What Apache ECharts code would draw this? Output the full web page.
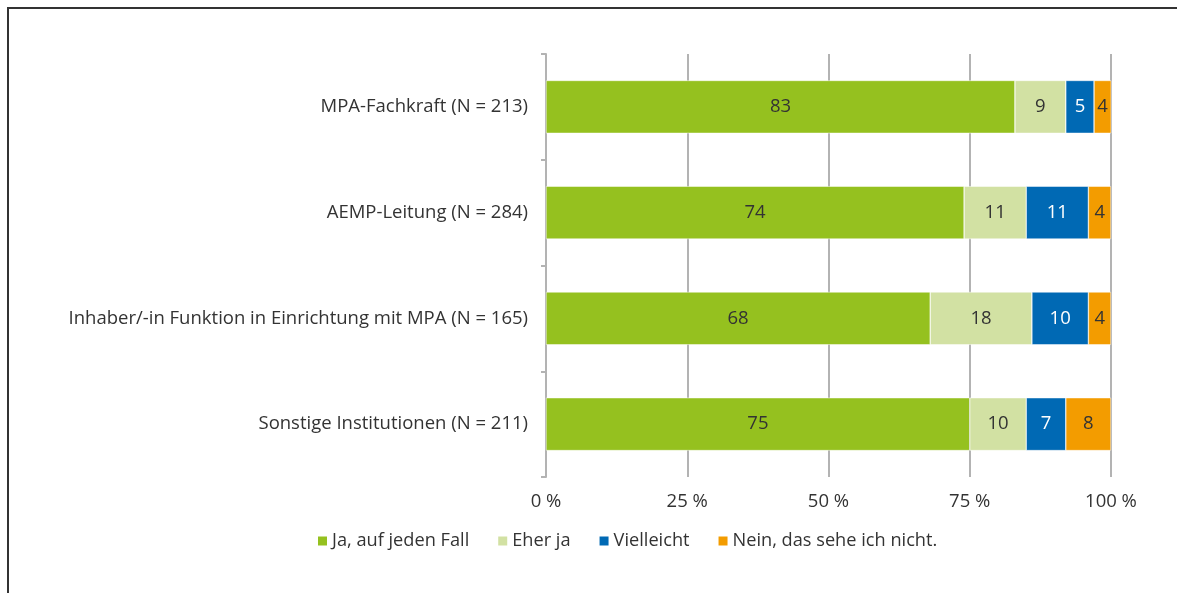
<!DOCTYPE html>
<html>
<head>
<meta charset="utf-8">
<script src="https://cdn.jsdelivr.net/npm/echarts@6/dist/echarts.min.js"></script>
<style>
html,body{margin:0;padding:0;background:#fff;}
#frame{position:absolute;left:7px;top:7px;width:1200px;height:620px;border:2px solid #333;box-sizing:border-box;}
#c{position:absolute;left:0;top:0;width:1177px;height:593px;}
</style>
</head>
<body>
<div id="frame"></div>
<div id="c"></div>
<script>
const categories = [
  "MPA-Fachkraft (N = 213)",
  "AEMP-Leitung (N = 284)",
  "Inhaber/-in Funktion in Einrichtung mit MPA (N = 165)",
  "Sonstige Institutionen (N = 211)"
];
const seriesNames = ["Ja, auf jeden Fall", "Eher ja", "Vielleicht", "Nein, das sehe ich nicht."];
const jaAufJedenFall = [83, 74, 68, 75];
const eherJa = [9, 11, 18, 10];
const vielleicht = [5, 11, 10, 7];
const nein = [4, 4, 4, 8];
const xTicks = [0, 25, 50, 75, 100];

const colors = ["#95c11f", "#d2e1a3", "#0069b4", "#f39c00"];
const labelColors = ["#333333", "#333333", "#ffffff", "#333333"];
const values = [jaAufJedenFall, eherJa, vielleicht, nein];
const font = "'Open Sans', 'Noto Sans', sans-serif";
const fs = 18.5;

const chart = echarts.init(document.getElementById('c'), null, {renderer: 'canvas'});
chart.setOption({
  animation: false,
  textStyle: {fontFamily: font},
  grid: {left: 546, right: 66, top: 54, bottom: 116, containLabel: false},
  legend: {
    left: 311, top: 527,
    itemWidth: 11, itemHeight: 11, itemGap: 27,
    icon: 'rect',
    textStyle: {fontFamily: font, fontSize: 18.2, color: '#333', padding: [0,0,0,-1]},
    data: seriesNames
  },
  xAxis: {
    type: 'value', min: 0, max: 100, interval: 25,
    axisLine: {show: false}, axisTick: {show: false},
    splitLine: {show: true, lineStyle: {color: '#b3b3b3', width: 2}},
    axisLabel: {
      fontFamily: font, fontSize: fs, color: '#333', margin: 15,
      formatter: v => xTicks.includes(v) ? v + ' %' : ''
    }
  },
  yAxis: {
    type: 'category', inverse: true, data: categories,
    axisLine: {show: true, lineStyle: {color: '#b3b3b3', width: 2}},
    axisTick: {show: true, length: 5, lineStyle: {color: '#b3b3b3', width: 2}},
    axisLabel: {fontFamily: font, fontSize: fs, color: '#333', margin: 18}
  },
  series: values.map((arr, i) => ({
    name: seriesNames[i], type: 'bar', stack: 'total',
    barWidth: '50%',
    data: arr,
    itemStyle: {color: colors[i], borderColor: '#ffffff', borderWidth: 0.5},
    label: {show: true, position: 'inside', fontFamily: font, fontSize: fs, color: labelColors[i]}
  }))
});
</script>
</body>
</html>
